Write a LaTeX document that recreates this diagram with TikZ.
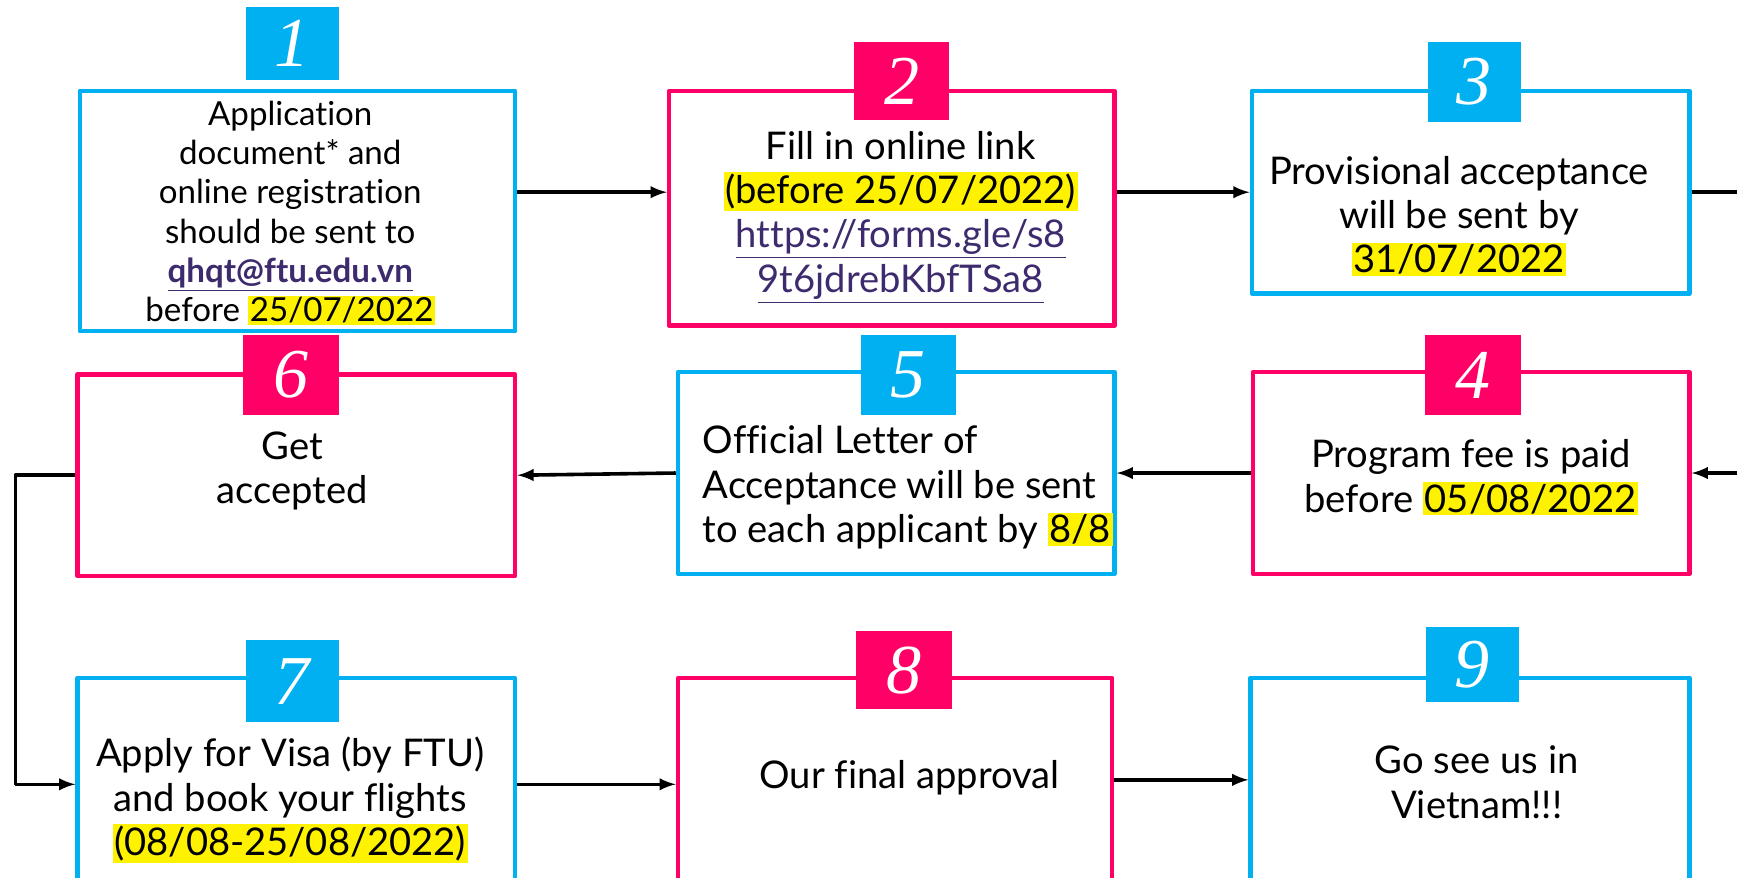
\documentclass[tikz,border=0pt]{standalone}
\usepackage{fontspec}
\setmainfont{Lato}[Ligatures=NoCommon]
\newfontfamily\numfont{Liberation Serif}
\usepackage{xcolor}
\definecolor{skyc}{HTML}{00B0F0}
\definecolor{rosec}{HTML}{FF0066}
\definecolor{linkc}{HTML}{3D2B6E}
\newlength{\px}
\setlength{\px}{0.2mm}
\newcommand{\hlt}[1]{{\setlength{\fboxsep}{0.8pt}\colorbox{yellow}{#1}}}
\newcommand{\lnk}[1]{\textcolor{linkc}{\underline{#1}}}

\begin{document}
\begin{tikzpicture}[x=0.2mm,y=-0.2mm,line join=round,>=latex]

        % Page frame
        \useasboundingbox (0,0) rectangle (1568,792);
        \clip (0,0) rectangle (1568,792);
        \fill[white] (0,0) rectangle (1568,792);

        \tikzset{
            stepframe/.style={draw, fill=white, line width=0.8mm, inner sep=0pt},
            skyframe/.style={stepframe, draw=skyc},
            roseframe/.style={stepframe, draw=rosec},
            numtab/.style={inner sep=0pt, text=white, font=\numfont\itshape\fontsize{36}{36}\selectfont},
            skytab/.style={numtab, fill=skyc},
            rosetab/.style={numtab, fill=rosec},
            steptext/.style={align=center, inner sep=0pt, font=\fontsize{19.6}{22.8}\selectfont},
            arr/.style={->, line width=0.65mm}
        }

        % Step frames
        \node[skyframe, minimum width=393\px, minimum height=217\px] (b1) at (268.5,190.5) {};
        \node[roseframe, minimum width=402\px, minimum height=212\px] (b2) at (805,188) {};
        \node[skyframe, minimum width=395\px, minimum height=183\px] (b3) at (1327.5,173.5) {};
        \node[roseframe, minimum width=394\px, minimum height=182\px] (b4) at (1328,427) {};
        \node[skyframe, minimum width=394\px, minimum height=182\px] (b5) at (809,427) {};
        \node[roseframe, minimum width=395\px, minimum height=182\px] (b6) at (267.5,429) {};
        \node[skyframe, minimum width=395\px, minimum height=192\px] (b7) at (267.5,708) {};
        \node[roseframe, minimum width=392\px, minimum height=192\px] (b8) at (808,708) {};
        \node[skyframe, minimum width=396\px, minimum height=184\px] (b9) at (1327,704) {};

        % Number tabs
        \node[skytab, minimum width=84\px, minimum height=66\px] (n1) at (264,39) {1};
        \node[rosetab, minimum width=86\px, minimum height=70\px] (n2) at (814,73) {2};
        \node[skytab, minimum width=84\px, minimum height=72\px] (n3) at (1331,74) {3};
        \node[rosetab, minimum width=87\px, minimum height=73\px] (n4) at (1329.5,338.5) {4};
        \node[skytab, minimum width=86\px, minimum height=73\px] (n5) at (820,338.5) {5};
        \node[rosetab, minimum width=87\px, minimum height=73\px] (n6) at (262.5,338.5) {6};
        \node[skytab, minimum width=84\px, minimum height=74\px] (n7) at (264,615) {7};
        \node[rosetab, minimum width=86\px, minimum height=70\px] (n8) at (816,605) {8};
        \node[skytab, minimum width=84\px, minimum height=68\px] (n9) at (1329,600) {9};

        % Step texts
        \node[steptext, font=\fontsize{17}{20.2}\selectfont] (t1) at (262,192)
            {Application\\document* and\\online registration\\should be sent to\\
             \lnk{\textbf{qhqt@ftu.edu.vn}}\\before \hlt{25/07/2022}};
        \node[steptext] (t2) at (813,196)
            {Fill in online link\\\hlt{(before 25/07/2022)}\\
             \lnk{https://forms.gle/s8}\\\lnk{9t6jdrebKbfTSa8}};
        \node[steptext] (t3) at (1317,195)
            {Provisional acceptance\\will be sent by\\\hlt{31/07/2022}};
        \node[steptext] (t4) at (1328,431)
            {Program fee is paid\\before \hlt{05/08/2022}};
        \node[steptext, align=left, anchor=west] (t5) at (634,440)
            {Official Letter of\\Acceptance will be sent\\to each applicant by \hlt{8/8}};
        \node[steptext] (t6) at (264,425) {Get\\accepted};
        \node[steptext] (t7) at (262,722)
            {Apply for Visa (by FTU)\\and book your flights\\\hlt{(08/08-25/08/2022)}};
        \node[steptext] (t8) at (821,702) {Our final approval};
        \node[steptext] (t9) at (1333,706) {Go see us in\\Vietnam!!!};

        % Connectors
        \coordinate (out3) at (1580,173.5);
        \coordinate (in4) at (1580,427);
        \draw[arr] (b1.east |- b3.east) -- (b2.west |- b3.east);
        \draw[arr] (b2.east |- b3.east) -- (b3.west);
        \draw[line width=0.65mm] (b3.east) -- (out3);
        \draw[arr] (in4) -- (b4.east);
        \draw[arr] (b4.west) -- (b5.east);
        \draw[arr] (b5.west) -- (b6.east);
        \draw[arr] (b6.west) -- ++(-54,0) |- (b7.west);
        \draw[arr] (b7.east) -- (b8.west);
        \draw[arr] (b8.east |- b9.west) -- (b9.west);

\end{tikzpicture}
\end{document}
